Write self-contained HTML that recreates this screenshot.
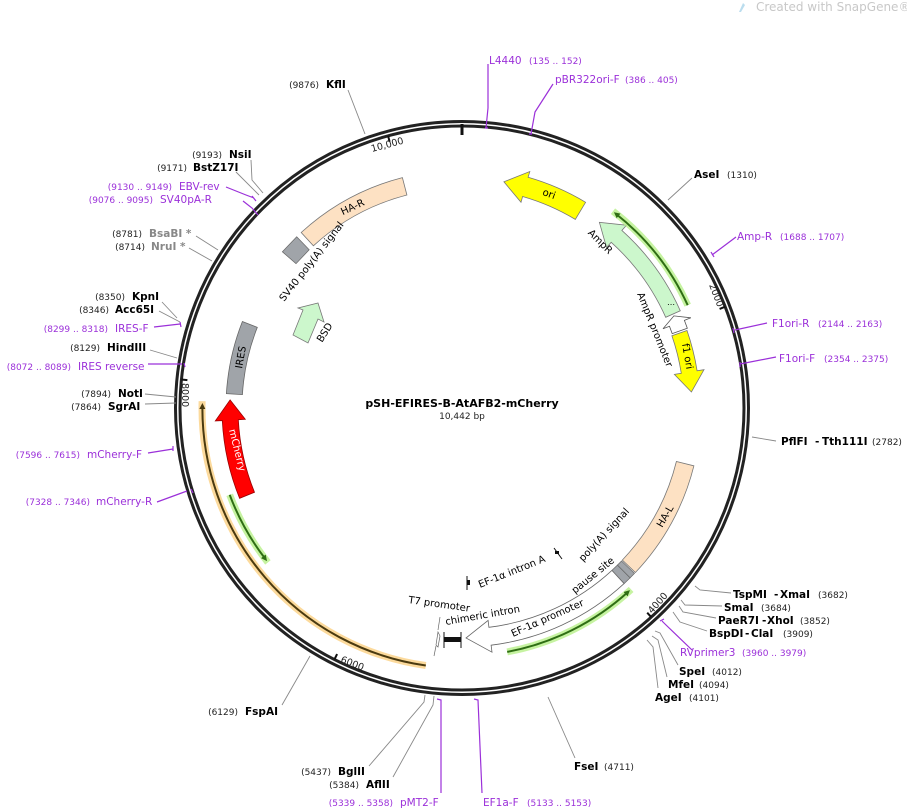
<!DOCTYPE html>
<html><head><meta charset="utf-8"><style>
html,body{margin:0;padding:0;background:#fff;}
svg{display:block;font-family:"DejaVu Sans","Liberation Sans",sans-serif;}
.n{font-size:9px;fill:#222;}
.b{font-size:10.5px;font-weight:bold;fill:#000;}
.g{font-size:10.5px;font-weight:bold;fill:#888;}
.p{font-size:10.5px;fill:#9b30d9;}
.pn{font-size:9px;fill:#9b30d9;}
.f{font-size:10.5px;fill:#000;}
.l{stroke:#888;stroke-width:0.9;fill:none;}
.pl{stroke:#9b30d9;stroke-width:1.2;fill:none;}
</style></head><body>
<svg width="907" height="811" viewBox="0 0 907 811" xmlns="http://www.w3.org/2000/svg">
<defs>
<marker id="ag" markerWidth="6" markerHeight="6" refX="4" refY="3" orient="auto" markerUnits="userSpaceOnUse"><path d="M0,0 L6,3 L0,6 Z" fill="#2f6e14"/></marker>
<marker id="ao" markerWidth="6" markerHeight="6" refX="4" refY="3" orient="auto" markerUnits="userSpaceOnUse"><path d="M0,0 L6,3 L0,6 Z" fill="#4a3a10"/></marker>
</defs>

<text x="756" y="11" style="font-size:12px;fill:#c8c8c8">Created with SnapGene®</text>
<path d="M739,12 L743,3 L745,5 L741,12 Z" fill="#bde"/>

<circle cx="462" cy="408" r="286.5" fill="none" stroke="#222" stroke-width="3"/>
<circle cx="462" cy="408" r="282" fill="none" stroke="#222" stroke-width="3"/>
<line x1="462" y1="124" x2="462" y2="135" stroke="#111" stroke-width="3"/>

<line x1="388.1" y1="135.9" x2="389.6" y2="141.7" stroke="#111" stroke-width="2"/>
<text x="372" y="152" transform="rotate(-15 372 152)" class="n" style="font-size:9.5px">10,000</text>
<line x1="725.2" y1="306.7" x2="719.6" y2="308.9" stroke="#111" stroke-width="2"/>
<text x="709" y="285" transform="rotate(69 709 285)" class="n" style="font-size:9.5px">2000</text>
<line x1="651.2" y1="617.1" x2="647.2" y2="612.7" stroke="#111" stroke-width="2"/>
<text x="652" y="614" transform="rotate(-48 652 614)" class="n" style="font-size:9.5px">4000</text>
<line x1="334.4" y1="659.5" x2="337.1" y2="654.1" stroke="#111" stroke-width="2"/>
<text x="340" y="662" transform="rotate(21 340 662)" class="n" style="font-size:9.5px">6000</text>
<line x1="181.4" y1="379.5" x2="187.4" y2="380.1" stroke="#111" stroke-width="2"/>
<text x="182" y="383" transform="rotate(90 182 383)" class="n" style="font-size:9.5px">8000</text>

<path d="M522.6,196.5 L521.0,202.3 L503.9,181.8 L529.8,171.5 L528.1,177.3 A240,240 0 0 1 585.6,202.3 L575.3,219.4 A220,220 0 0 0 522.6,196.5 Z" fill="#ffff00" stroke="#777" stroke-width="0.8"/>
<text x="548" y="197" transform="rotate(20 548 197)" class="f" text-anchor="middle" style="font-size:10px">ori</text>

<path d="M680.3,310.8 A239,239 0 0 0 621.9,230.4 L626.6,225.2 L599.4,222.3 L606.5,247.5 L611.2,242.3 A223,223 0 0 1 665.7,317.3 Z" fill="#ccf7cc" stroke="#777" stroke-width="0.8"/>
<text x="598" y="244" transform="rotate(45 598 244)" class="f" text-anchor="middle" style="font-size:10px">AmpR</text>
<text x="667" y="307" class="f" style="font-size:8px">⋯</text>

<path d="M687.3,328.2 L684.4,320.4 L690.9,317.8 L673.9,315.9 L663.0,328.8 L669.5,326.3 L672.2,333.6 Z" fill="#fff" stroke="#555" stroke-width="0.8"/>
<text x="637" y="294" transform="rotate(68 637 294)" class="f" style="font-size:10px">AmpR promoter</text>

<path d="M671.9,335.7 L687.0,330.5 A238,238 0 0 1 697.1,370.8 L704.0,369.7 L691.4,392.0 L674.4,374.4 L681.3,373.3 A222,222 0 0 0 671.9,335.7 Z" fill="#ffff00" stroke="#777" stroke-width="0.8"/>
<text x="682" y="344" transform="rotate(80 682 344)" class="f" style="font-size:10px">f1 ori</text>

<path d="M687.7,305.2 A248,248 0 0 0 613.0,211.2" stroke="#b8f08a" stroke-width="7" fill="none" opacity="0.8"/>
<path d="M687.7,305.2 A248,248 0 0 0 615.5,213.5" stroke="#2f6e14" stroke-width="2" fill="none" marker-end="url(#ag)"/>

<path d="M693.9,465.8 A239,239 0 0 1 635.4,572.5 L622.3,560.1 A221,221 0 0 0 676.4,461.5 Z" fill="#fde1c3" stroke="#777" stroke-width="0.8"/>
<text x="668" y="518" transform="rotate(-60 668 518)" class="f" text-anchor="middle" style="font-size:10px">HA-L</text>

<path d="M634.5,573.4 L630.1,577.9 L617.4,565.1 L621.5,561.0 Z" fill="#a0a4a9" stroke="#666" stroke-width="0.7"/>
<path d="M630.1,577.9 L624.1,583.6 L611.9,570.4 L617.4,565.1 Z" fill="#a0a4a9" stroke="#666" stroke-width="0.7"/>

<path d="M624.1,583.6 A239,239 0 0 1 491.1,645.2 L492.0,652.2 L466.0,638.0 L488.1,620.4 L488.9,627.3 A221,221 0 0 0 611.9,570.4 Z" fill="#fff" stroke="#666" stroke-width="0.8"/>
<path d="M507.2,651.9 A248,248 0 0 0 631.1,589.4" stroke="#b8f08a" stroke-width="7" fill="none" opacity="0.8"/>
<path d="M507.2,651.9 A248,248 0 0 0 628.5,591.5" stroke="#2f6e14" stroke-width="2" fill="none" marker-end="url(#ag)"/>

<text x="513" y="637" transform="rotate(-24 513 637)" class="f" style="font-size:10px">EF-1α promoter</text>
<text x="446" y="625" transform="rotate(-10 446 625)" class="f" style="font-size:10px">chimeric intron</text>
<text x="408" y="603" transform="rotate(8 408 603)" class="f" style="font-size:10px">T7 promoter</text>
<text x="480" y="588" transform="rotate(-22 480 588)" class="f" style="font-size:10px">EF-1α intron A</text>
<text x="575" y="594" transform="rotate(-39 575 594)" class="f" style="font-size:10px">pause site</text>
<text x="583" y="562" transform="rotate(-47 583 562)" class="f" style="font-size:10px">poly(A) signal</text>

<line x1="467" y1="576" x2="467" y2="590" stroke="#111" stroke-width="1"/>
<rect x="467" y="580" width="3" height="5" fill="#111"/>
<line x1="554" y1="548" x2="562" y2="559" stroke="#111" stroke-width="1"/>
<rect x="555" y="551" width="4" height="3" fill="#111"/>
<line x1="444" y1="632" x2="444" y2="648" stroke="#111" stroke-width="1"/>
<line x1="461" y1="632" x2="461" y2="648" stroke="#111" stroke-width="1"/>
<rect x="444" y="637" width="17" height="5" fill="#111"/>
<path d="M436,645 L438,632 L440,636 L438,647 Z" fill="#fff" stroke="#666" stroke-width="0.7"/>
<line x1="436" y1="646" x2="434" y2="656" stroke="#666" stroke-width="0.7"/>
<line x1="438" y1="630" x2="440" y2="617" stroke="#666" stroke-width="0.7"/>

<path d="M301.2,232.5 A238,238 0 0 1 402.4,177.6 L406.9,195.0 A220,220 0 0 0 313.4,245.8 Z" fill="#fde1c3" stroke="#777" stroke-width="0.8"/>
<text x="354" y="210" transform="rotate(-25 354 210)" class="f" text-anchor="middle" style="font-size:10px">HA-R</text>
<path d="M282.4,251.8 L296.7,236.8 L309.2,249.8 L296.0,263.7 Z" fill="#a0a4a9" stroke="#666" stroke-width="0.7"/>
<text x="284" y="302" transform="rotate(-52 284 302)" class="f" style="font-size:10px">SV40 poly(A) signal</text>
<path d="M293,335 L303,310 L298,308 L318,303 L324,322 L318,319 L308,343 Z" fill="#ccf7cc" stroke="#777" stroke-width="0.8"/>
<text x="322" y="343" transform="rotate(-58 322 343)" class="f" style="font-size:10px">BSD</text>
<path d="M226.4,393.6 A236,236 0 0 1 242.4,321.5 L257.3,327.4 A220,220 0 0 0 242.4,394.6 Z" fill="#a0a4a9" stroke="#666" stroke-width="0.8"/>
<text x="242" y="369" transform="rotate(-80 242 369)" class="f" style="font-size:10px">IRES</text>

<path d="M202.1,401.2 A260,260 0 0 0 425.8,665.5" stroke="#fbd38b" stroke-width="7" fill="none" opacity="0.85"/>
<path d="M425.8,665.5 A260,260 0 0 1 202.4,405" stroke="#4a3a10" stroke-width="2" fill="none" marker-end="url(#ao)"/>
<path d="M239.6,498.3 A240,240 0 0 1 222.3,420.6 L215.3,420.9 L230.1,399.9 L245.3,419.3 L238.3,419.7 A224,224 0 0 0 254.5,492.3 Z" fill="#ff0000" stroke="#900" stroke-width="0.8"/>
<text x="229" y="430" transform="rotate(76 229 430)" style="font-size:10px;fill:#fff">mCherry</text>
<path d="M229.7,494.8 A248,248 0 0 0 267.9,562.4" stroke="#b8f08a" stroke-width="7" fill="none" opacity="0.8"/>
<path d="M229.7,494.8 A248,248 0 0 0 265.8,559.5" stroke="#2f6e14" stroke-width="2" fill="none" marker-end="url(#ag)"/>

<text x="462" y="407" text-anchor="middle" class="b" style="font-size:11px">pSH-EFIRES-B-AtAFB2-mCherry</text>
<text x="462" y="419" text-anchor="middle" class="n">10,442 bp</text>

<path class="l" d="M348,90 L365,134"/>
<path class="l" d="M251,160 L252,180 L263,193"/>
<path class="l" d="M236,172 L259,195"/>
<path class="pl" d="M226,187 L246,195 L254,198 M252,196 L256,201"/>
<path class="pl" d="M243,201 L252,208 L258,215"/>
<path class="l" d="M196,236 L218,250"/>
<path class="l" d="M189,248 L212,261"/>
<path class="l" d="M162,302 L177,318"/>
<path class="l" d="M159,311 L180,322"/>
<path class="pl" d="M154,327 L180,324 M180,322 L181,327"/>
<path class="l" d="M150,350 L177,358"/>
<path class="pl" d="M148,364 L182,364 M184,363 L185,367"/>
<path class="l" d="M145,394 L176,397"/>
<path class="l" d="M145,404 L176,403"/>
<path class="pl" d="M148,453 L173,449 M173,446 L173,451"/>
<path class="pl" d="M157,502 L187,491 M191,489 L193,493"/>
<path class="l" d="M282,705 L310,656"/>
<path class="l" d="M369,766 L424,702 L425,695"/>
<path class="l" d="M393,777 L433,705 L434,696"/>
<path class="pl" d="M441,793 L441,700 L437,699"/>
<path class="pl" d="M482,793 L478,700 L474,699"/>
<path class="l" d="M575,758 L548,697"/>

<path class="l" d="M658,688 L653,647 L647,640"/>
<path class="l" d="M667,677 L658,640 L652,636"/>
<path class="l" d="M678,665 L660,633 L655,631"/>
<path class="pl" d="M692,650 L665,624 L662,621 M660,621 L664,619"/>
<path class="l" d="M707,631 L680,622 L673,612"/>
<path class="l" d="M716,618 L683,612 L679,606"/>
<path class="l" d="M722,606 L685,605 L681,600"/>
<path class="l" d="M731,593 L700,590 L695,586"/>
<path class="l" d="M752,437 L776,441"/>
<path class="pl" d="M740,364 L776,357 M740,362 L740,367"/>
<path class="pl" d="M735,330 L767,323 M733,328 L734,333"/>
<path class="pl" d="M712,255 L736,237 M711,252 L714,257"/>
<path class="l" d="M668,200 L692,178"/>
<path class="pl" d="M488,64 L488,108 L486,128 M485,128 L488,128"/>
<path class="pl" d="M553,84 L535,112 L531,134 M529,134 L532,134"/>

<text x="319" y="88" text-anchor="end" class="n">(9876)</text><text x="326" y="88" class="b">KflI</text>
<text x="222" y="158" text-anchor="end" class="n">(9193)</text><text x="229" y="158" class="b">NsiI</text>
<text x="187" y="171" text-anchor="end" class="n">(9171)</text><text x="193" y="171" class="b">BstZ17I</text>
<text x="172" y="190" text-anchor="end" class="pn">(9130 .. 9149)</text><text x="179" y="190" class="p">EBV-rev</text>
<text x="153" y="203" text-anchor="end" class="pn">(9076 .. 9095)</text><text x="160" y="203" class="p">SV40pA-R</text>
<text x="142" y="237" text-anchor="end" class="n">(8781)</text><text x="149" y="237" class="g">BsaBI *</text>
<text x="145" y="250" text-anchor="end" class="n">(8714)</text><text x="151" y="250" class="g">NruI *</text>
<text x="125" y="300" text-anchor="end" class="n">(8350)</text><text x="132" y="300" class="b">KpnI</text>
<text x="109" y="313" text-anchor="end" class="n">(8346)</text><text x="115" y="313" class="b">Acc65I</text>
<text x="108" y="332" text-anchor="end" class="pn">(8299 .. 8318)</text><text x="115" y="332" class="p">IRES-F</text>
<text x="100" y="351" text-anchor="end" class="n">(8129)</text><text x="107" y="351" class="b">HindIII</text>
<text x="71" y="370" text-anchor="end" class="pn">(8072 .. 8089)</text><text x="78" y="370" class="p">IRES reverse</text>
<text x="111" y="397" text-anchor="end" class="n">(7894)</text><text x="118" y="397" class="b">NotI</text>
<text x="101" y="410" text-anchor="end" class="n">(7864)</text><text x="108" y="410" class="b">SgrAI</text>
<text x="80" y="458" text-anchor="end" class="pn">(7596 .. 7615)</text><text x="87" y="458" class="p">mCherry-F</text>
<text x="90" y="505" text-anchor="end" class="pn">(7328 .. 7346)</text><text x="96" y="505" class="p">mCherry-R</text>
<text x="238" y="715" text-anchor="end" class="n">(6129)</text><text x="245" y="715" class="b">FspAI</text>
<text x="331" y="775" text-anchor="end" class="n">(5437)</text><text x="338" y="775" class="b">BglII</text>
<text x="359" y="788" text-anchor="end" class="n">(5384)</text><text x="366" y="788" class="b">AflII</text>
<text x="393" y="806" text-anchor="end" class="pn">(5339 .. 5358)</text><text x="400" y="806" class="p">pMT2-F</text>
<text x="483" y="806" class="p">EF1a-F</text><text x="527" y="806" class="pn">(5133 .. 5153)</text>
<text x="574" y="770" class="b">FseI</text><text x="604" y="770" class="n">(4711)</text>

<text x="655" y="701" class="b">AgeI</text><text x="689" y="701" class="n">(4101)</text>
<text x="668" y="688" class="b">MfeI</text><text x="699" y="688" class="n">(4094)</text>
<text x="679" y="675" class="b">SpeI</text><text x="712" y="675" class="n">(4012)</text>
<text x="680" y="656" class="p">RVprimer3</text><text x="742" y="656" class="pn">(3960 .. 3979)</text>
<text x="709" y="637" class="b">BspDI</text><text x="745" y="637" class="b">-</text><text x="751" y="637" class="b">ClaI</text><text x="783" y="637" class="n">(3909)</text>
<text x="718" y="624" class="b">PaeR7I</text><text x="762" y="624" class="b">-</text><text x="767" y="624" class="b">XhoI</text><text x="800" y="624" class="n">(3852)</text>
<text x="724" y="611" class="b">SmaI</text><text x="761" y="611" class="n">(3684)</text>
<text x="733" y="598" class="b">TspMI</text><text x="774" y="598" class="b">-</text><text x="780" y="598" class="b">XmaI</text><text x="818" y="598" class="n">(3682)</text>
<text x="781" y="445" class="b">PflFI</text><text x="815" y="445" class="b">-</text><text x="822" y="445" class="b">Tth111I</text><text x="872" y="445" class="n">(2782)</text>
<text x="779" y="362" class="p">F1ori-F</text><text x="824" y="362" class="pn">(2354 .. 2375)</text>
<text x="772" y="327" class="p">F1ori-R</text><text x="818" y="327" class="pn">(2144 .. 2163)</text>
<text x="737" y="240" class="p">Amp-R</text><text x="780" y="240" class="pn">(1688 .. 1707)</text>
<text x="694" y="178" class="b">AseI</text><text x="727" y="178" class="n">(1310)</text>
<text x="489" y="64" class="p">L4440</text><text x="529" y="64" class="pn">(135 .. 152)</text>
<text x="555" y="83" class="p">pBR322ori-F</text><text x="625" y="83" class="pn">(386 .. 405)</text>
</svg>
</body></html>
